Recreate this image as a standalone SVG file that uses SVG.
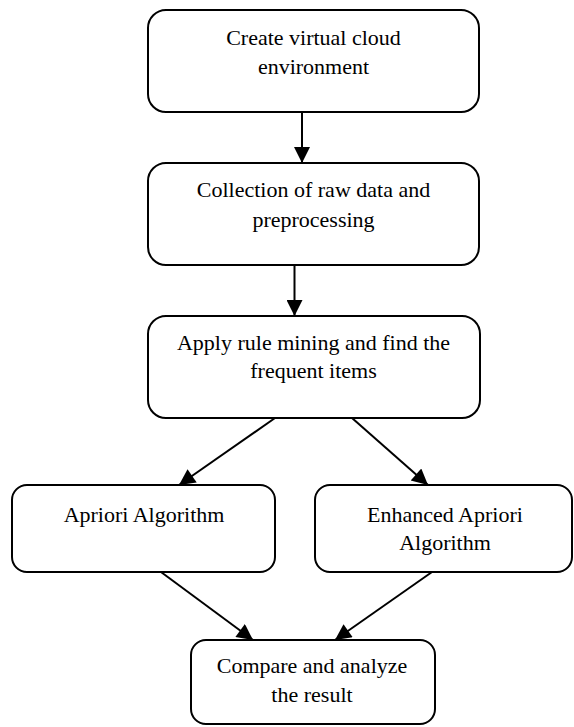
<svg xmlns="http://www.w3.org/2000/svg" width="574" height="727" viewBox="0 0 574 727">
<style>
.box{fill:#fff;stroke:#000;stroke-width:2}
.t{font-family:"Liberation Serif","Times New Roman",serif;font-size:22px;fill:#000;text-anchor:middle}
.c{stroke:#000;stroke-width:2;fill:none;marker-end:url(#ah)}
</style>
<defs>
<marker id="ah" markerUnits="userSpaceOnUse" markerWidth="18" markerHeight="16" viewBox="0 0 16 16" refX="16" refY="8" orient="auto">
<path d="M0,0 L16,8 L0,16 Z" fill="#000"/>
</marker>
</defs>
<g id="connectors">
<line class="c" x1="302" y1="112" x2="302" y2="163"/>
<line class="c" x1="294.5" y1="265" x2="294.5" y2="316"/>
<line class="c" x1="275" y1="418" x2="179" y2="485"/>
<line class="c" x1="352" y1="418" x2="428" y2="485"/>
<line class="c" x1="161" y1="572" x2="253" y2="640"/>
<line class="c" x1="432" y1="572" x2="335" y2="640"/>
</g>
<g id="n1">
<rect class="box" x="148" y="10" width="331" height="102" rx="18"/>
<text class="t" x="313.5" y="45">Create virtual cloud</text>
<text class="t" x="313.5" y="74">environment</text>
</g>
<g id="n2">
<rect class="box" x="148" y="163" width="331" height="102" rx="18"/>
<text class="t" x="313.5" y="197">Collection of raw data and</text>
<text class="t" x="313.5" y="227">preprocessing</text>
</g>
<g id="n3">
<rect class="box" x="148" y="316" width="332" height="102" rx="18"/>
<text class="t" x="313.5" y="350">Apply rule mining and find the</text>
<text class="t" x="313.5" y="378">frequent items</text>
</g>
<g id="n4">
<rect class="box" x="12" y="485" width="263" height="87" rx="15"/>
<text class="t" x="144" y="522">Apriori Algorithm</text>
</g>
<g id="n5">
<rect class="box" x="315" y="485" width="257" height="87" rx="15"/>
<text class="t" x="445" y="522">Enhanced Apriori</text>
<text class="t" x="445" y="550">Algorithm</text>
</g>
<g id="n6">
<rect class="box" x="191" y="640" width="244" height="84" rx="15"/>
<text class="t" x="312" y="673">Compare and analyze</text>
<text class="t" x="312" y="702">the result</text>
</g>
</svg>
